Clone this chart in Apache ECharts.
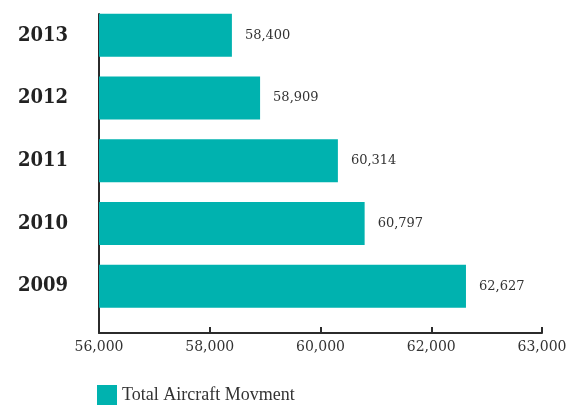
<!DOCTYPE html>
<html>
<head>
<meta charset="utf-8">
<script src="https://cdn.jsdelivr.net/npm/echarts@6/dist/echarts.min.js"></script>
<style>
  html, body { margin: 0; padding: 0; background: #fff; }
  #chart { width: 571px; height: 405px; }
</style>
</head>
<body>
<div id="chart"></div>
<script>
    // data
    var years = ['2013', '2012', '2011', '2010', '2009'];
    var movements = [58400, 58909, 60314, 60797, 62627];
    var tickLabels = ['56,000', '58,000', '60,000', '62,000', '63,000'];
    var seriesName = 'Total Aircraft Movment';

    var teal = '#00b2af',
        ink = '#2b2b2b';

    var chart = echarts.init(document.getElementById('chart'));

    var option = {
        animation: false,
        legend: {
            left: 97,
            top: 385,
            padding: 0,
            itemWidth: 20,
            itemHeight: 20,
            itemGap: 10,
            icon: 'rect',
            textStyle: {
                fontFamily: 'Liberation Serif',
                fontSize: 18,
                color: '#333'
            },
            data: [seriesName]
        },
        grid: [
            // bars live here
            { left: 99, right: 29, top: 4, bottom: 87.5 },
            // visible axis frame
            { left: 99, right: 29, top: 14, bottom: 72 }
        ],
        xAxis: [
            {
                gridIndex: 0,
                type: 'value',
                min: 56000,
                max: 64000,
                interval: 2000,
                show: false
            },
            {
                gridIndex: 1,
                type: 'value',
                min: 56000,
                max: 64000,
                interval: 2000,
                axisLine: { show: true, onZero: false, lineStyle: { color: ink, width: 2 } },
                axisTick: { show: true, inside: true, length: 6, lineStyle: { color: ink, width: 2 } },
                splitLine: { show: false },
                axisLabel: {
                    margin: 7,
                    fontFamily: 'DejaVu Serif',
                    fontSize: 14,
                    color: '#333',
                    showMaxLabel: true,
                    formatter: function (v, i) { return tickLabels[i]; }
                }
            }
        ],
        yAxis: [
            {
                gridIndex: 0,
                type: 'category',
                inverse: true,
                data: years,
                axisLine: { show: false },
                axisTick: { show: false },
                axisLabel: {
                    margin: 31,
                    fontFamily: '"DejaVu Serif Condensed", "DejaVu Serif"',
                    fontWeight: 'bold',
                    fontSize: 20,
                    color: '#222'
                }
            },
            {
                gridIndex: 1,
                type: 'value',
                min: 0,
                max: 1,
                axisLine: { show: true, onZero: false, lineStyle: { color: ink, width: 2 } },
                axisTick: { show: false },
                axisLabel: { show: false },
                splitLine: { show: false }
            }
        ],
        series: [
            {
                name: seriesName,
                type: 'bar',
                xAxisIndex: 0,
                yAxisIndex: 0,
                barWidth: 43,
                itemStyle: { color: teal },
                label: {
                    show: true,
                    position: 'right',
                    distance: 13,
                    fontFamily: 'DejaVu Serif',
                    fontSize: 13,
                    color: '#333',
                    formatter: function (p) { return p.value.toLocaleString('en-US'); }
                },
                data: movements
            }
        ]
    };

    chart.setOption(option);
</script>
</body>
</html>
